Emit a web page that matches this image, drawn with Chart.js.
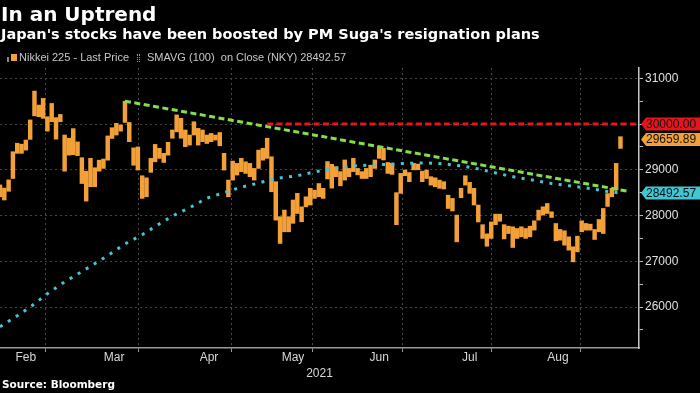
<!DOCTYPE html>
<html>
<head>
<meta charset="utf-8">
<script src="https://cdn.jsdelivr.net/npm/chart.js@4.4.1/dist/chart.umd.min.js"></script>
<style>
  html, body { margin: 0; padding: 0; background: #000; }
  #wrap { position: relative; width: 700px; height: 393px; overflow: hidden; background: #000; }
  #c { position: absolute; left: 0; top: 0; }
  .hd { position: absolute; left: 1px; white-space: nowrap; color: #fff; font-family: "DejaVu Sans"; font-weight: bold; }
  #title { top: 2px; font-size: 20px; }
  #sub { top: 26px; font-size: 14.5px; }
  .lg { position: absolute; top: 51px; white-space: nowrap; font: 11px "Liberation Sans"; color: #c8c8c8; }
  .ic { position: absolute; }
  #src { position: absolute; left: 2px; top: 378px; white-space: nowrap; font: bold 10.5px "DejaVu Sans"; color: #fff; }
</style>
</head>
<body>
<div id="wrap">
  <canvas id="c" width="700" height="393"></canvas>
  <div class="hd" id="title">In an Uptrend</div>
  <div class="hd" id="sub">Japan's stocks have been boosted by PM Suga's resignation plans</div>
  <div class="ic" style="left:7px;top:57px;width:2px;height:5px;background:#888;"></div>
  <div class="ic" style="left:11px;top:54px;width:6px;height:7px;background:#f4a038;"></div>
  <div class="lg" style="left:19px;">Nikkei 225 - Last Price</div>
  <div class="ic" style="left:137px;top:54px;width:1px;height:8px;border-left:1px dotted #999;border-right:1px dotted #999;"></div>
  <div class="lg" id="smaLegend" style="left:147px;">SMAVG (100)&nbsp; on Close (NKY)</div>
  <div id="src">Source: Bloomberg</div>
</div>
<script>
// trading days, Feb 3 - Sep 6 2021
const days = [
  '02-03','02-04','02-05','02-08','02-09','02-10','02-12','02-15','02-16','02-17','02-18','02-19','02-22','02-24','02-25','02-26',
  '03-01','03-02','03-03','03-04','03-05','03-08','03-09','03-10','03-11','03-12','03-15','03-16','03-17','03-18','03-19','03-22','03-23','03-24','03-25','03-26','03-29','03-30','03-31',
  '04-01','04-02','04-05','04-06','04-07','04-08','04-09','04-12','04-13','04-14','04-15','04-16','04-19','04-20','04-21','04-22','04-23','04-26','04-27','04-28','04-30',
  '05-06','05-07','05-10','05-11','05-12','05-13','05-14','05-17','05-18','05-19','05-20','05-21','05-24','05-25','05-26','05-27','05-28','05-31',
  '06-01','06-02','06-03','06-04','06-07','06-08','06-09','06-10','06-11','06-14','06-15','06-16','06-17','06-18','06-21','06-22','06-23','06-24','06-25','06-28','06-29','06-30',
  '07-01','07-02','07-05','07-06','07-07','07-08','07-09','07-12','07-13','07-14','07-15','07-16','07-19','07-20','07-21','07-26','07-27','07-28','07-29','07-30',
  '08-02','08-03','08-04','08-05','08-06','08-10','08-11','08-12','08-13','08-16','08-17','08-18','08-19','08-20','08-23','08-24','08-25','08-26','08-27','08-30','08-31',
  '09-01','09-02','09-03','09-06'
];
const lows = [
  28410,28340,28530,28810,29360,29360,29430,29665,30180,30160,30125,29845,30050,29670,30050,28970,
  29320,29330,29310,28700,28315,28630,28630,28970,29030,29210,29685,29760,29845,30035,29615,29100,28995,28375,28410,28945,29175,29250,29160,
  29320,29690,29830,29690,29505,29540,29760,29540,29615,29575,29615,29650,29525,28995,28410,28775,28885,28960,28920,28850,28775,
  29030,29210,29250,28520,27900,27390,27645,27645,27830,28045,27865,28190,28230,28375,28410,28375,28800,28600,
  28850,28650,28775,28850,28960,28890,28810,28810,28850,29030,29250,29215,28920,28900,27800,28485,28870,28740,29000,29000,28740,28810,
  28665,28630,28595,28580,28155,28100,27425,28390,28665,28485,28230,27860,27500,27330,27500,27800,27875,27490,27608,27302,
  27500,27535,27500,27535,27681,27900,28009,28045,27958,27448,27462,27353,27244,26988,27207,27645,27681,27681,27477,27645,27608,
  28200,28410,28557,29468
];
const highs = [
  28670,28600,28780,29395,29580,29560,29650,30090,30720,30415,30560,30160,30450,30140,30210,29760,
  29690,29900,29610,29265,28970,29250,29045,29210,29235,29740,29920,30015,29980,30500,30035,29480,29500,28870,28825,29250,29555,29470,29360,
  29600,29870,30200,30125,29870,29760,30050,29905,29870,29760,29795,29760,29815,29360,28775,29190,29140,29250,29175,29140,29030,
  29430,29470,29690,29285,28740,27975,28120,27975,28340,28485,28190,28410,28595,28555,28700,28595,29180,29120,
  29070,28960,29215,29030,29250,29030,28960,29030,29100,29215,29505,29470,29160,29140,28500,28920,28995,28940,29140,29125,28970,28995,
  28850,28825,28775,28740,28445,28375,28010,28595,28870,28725,28595,28230,27800,27600,27860,28030,28030,27800,27768,27754,
  27717,27754,27717,27768,27885,28118,28191,28264,28082,27827,27695,27666,27535,27317,27550,27885,27827,27812,27695,27914,28155,
  28480,28593,29140,29723
];
const lastPrice = 29659.89;

// 100-day moving average, read at these trading-day positions
const smaDays = [0,4,7,11,14,18,21,25,29,33,36,40,44,48,52,56,60,64,69,73,77,81,85,90,94,99,103,107,111,116,120,124,128,133,137,141,144];
const smaVals = [25570,25810,26000,26290,26490,26720,26890,27125,27380,27580,27760,27990,28170,28380,28500,28620,28710,28810,28870,28955,29015,29075,29100,29120,29140,29150,29130,29085,29020,28910,28830,28770,28700,28640,28590,28525,28492.57];

// resistance trend line and the 30000 level
const trendDays = [29, 145.8];
const trendVals = [30500, 28530];
const targetLevel = 30000;
const targetFrom = 62;

// x axis: month ends (grid) and month middles (labels)
const monthEnds = [15, 38, 59, 77, 99, 119, 140];
const monthMids = [6, 26.5, 48.5, 68, 88, 109, 129.5];
const monthLabels = ['Feb', 'Mar', 'Apr', 'May', 'Jun', 'Jul', 'Aug'];
const yTicks = [25500, 26000, 26500, 27000, 27500, 28000, 28500, 29000, 29500, 30000, 30500, 31000];

const xMax = 148.3;
const lastSma = smaVals[smaVals.length - 1];
document.getElementById('smaLegend').textContent = 'SMAVG (100)\u00a0 on Close (NKY) ' + lastSma.toFixed(2);

// price tags on the right axis
const tagPlugin = {
  id: 'tags',
  afterDraw(chart) {
    const { ctx, scales: { y }, chartArea } = chart;
    const tags = [
      { v: targetLevel, bg: '#e3161d' },
      { v: lastPrice, bg: '#f4a038' },
      { v: lastSma, bg: '#3fc7d6' }
    ];
    ctx.save();
    ctx.font = '12px "Liberation Sans"';
    ctx.textBaseline = 'middle';
    tags.forEach(t => {
      const yc = y.getPixelForValue(t.v);
      const x0 = chartArea.right + 2;
      ctx.fillStyle = t.bg;
      ctx.beginPath();
      ctx.moveTo(x0, yc);
      ctx.lineTo(x0 + 5, yc - 6.5);
      ctx.lineTo(700, yc - 6.5);
      ctx.lineTo(700, yc + 6.5);
      ctx.lineTo(x0 + 5, yc + 6.5);
      ctx.closePath();
      ctx.fill();
      ctx.fillStyle = '#111';
      ctx.fillText(t.v.toFixed(2), x0 + 5, yc + 0.5);
    });
    ctx.restore();
  }
};

new Chart(document.getElementById('c'), {
  type: 'bar',
  data: {
    datasets: [
      {
        type: 'line',
        data: [{ x: targetFrom, y: targetLevel }, { x: xMax, y: targetLevel }],
        borderColor: '#e8141c',
        borderWidth: 3,
        borderDash: [6, 3.3],
        pointRadius: 0,
        order: 1
      },
      {
        type: 'line',
        data: trendDays.map((d, i) => ({ x: d, y: trendVals[i] })),
        borderColor: '#82e04c',
        borderWidth: 3,
        borderDash: [6, 3.5],
        pointRadius: 0,
        order: 2
      },
      {
        type: 'line',
        data: smaDays.map((d, i) => ({ x: d, y: smaVals[i] })),
        borderColor: '#46c6d4',
        borderWidth: 3,
        borderDash: [3, 6.4],
        pointRadius: 0,
        tension: 0,
        order: 3
      },
      {
        type: 'bar',
        data: days.map((d, i) => ({ x: i, y: [lows[i], highs[i]] })),
        backgroundColor: '#f4a038',
        barThickness: 3.8,
        order: 4
      }
    ]
  },
  options: {
    responsive: false,
    animation: false,
    devicePixelRatio: 1,
    layout: { padding: { top: 68, left: 0, right: 0, bottom: 0 } },
    plugins: { legend: { display: false }, tooltip: { enabled: false } },
    scales: {
      x: {
        type: 'linear',
        min: 0,
        max: xMax,
        offset: false,
        afterBuildTicks: s => {
          s.ticks = monthEnds.concat(monthMids).sort((a, b) => a - b).map(v => ({ value: v }));
        },
        afterFit: s => { s.height = 45; },
        ticks: {
          autoSkip: false,
          maxRotation: 0,
          color: '#d8d8d8',
          font: { family: 'Liberation Sans', size: 12 },
          padding: -2,
          callback: v => {
            const k = monthMids.indexOf(v);
            return k >= 0 ? monthLabels[k] : '';
          }
        },
        grid: {
          color: c => (c.tick && monthEnds.includes(c.tick.value)) ? '#4a4a4a' : 'transparent',
          tickColor: c => (c.tick && monthEnds.includes(c.tick.value)) ? '#999' : 'transparent',
          tickLength: 4
        },
        border: { color: '#9a9a9a', width: 1.5, dash: [2, 3] },
        title: {
          display: true,
          text: '2021',
          color: '#d8d8d8',
          font: { family: 'Liberation Sans', size: 12 },
          padding: { top: 0, bottom: 12 }
        }
      },
      y: {
        type: 'linear',
        position: 'right',
        min: 25105,
        max: 31225,
        afterBuildTicks: s => { s.ticks = yTicks.map(v => ({ value: v })); },
        afterFit: s => { s.width = 61; },
        ticks: {
          color: '#e0e0e0',
          font: { family: 'Liberation Sans', size: 12 },
          padding: 2,
          callback: v => (v % 1000 === 0 && v !== targetLevel) ? v : ''
        },
        grid: {
          color: c => (c.tick && c.tick.value % 1000 === 0) ? '#444' : 'transparent',
          tickColor: '#bbb',
          tickLength: 4
        },
        border: { color: '#c8c8c8', width: 1.5, dash: [2, 3] }
      }
    }
  },
  plugins: [tagPlugin]
});
</script>
</body>
</html>
